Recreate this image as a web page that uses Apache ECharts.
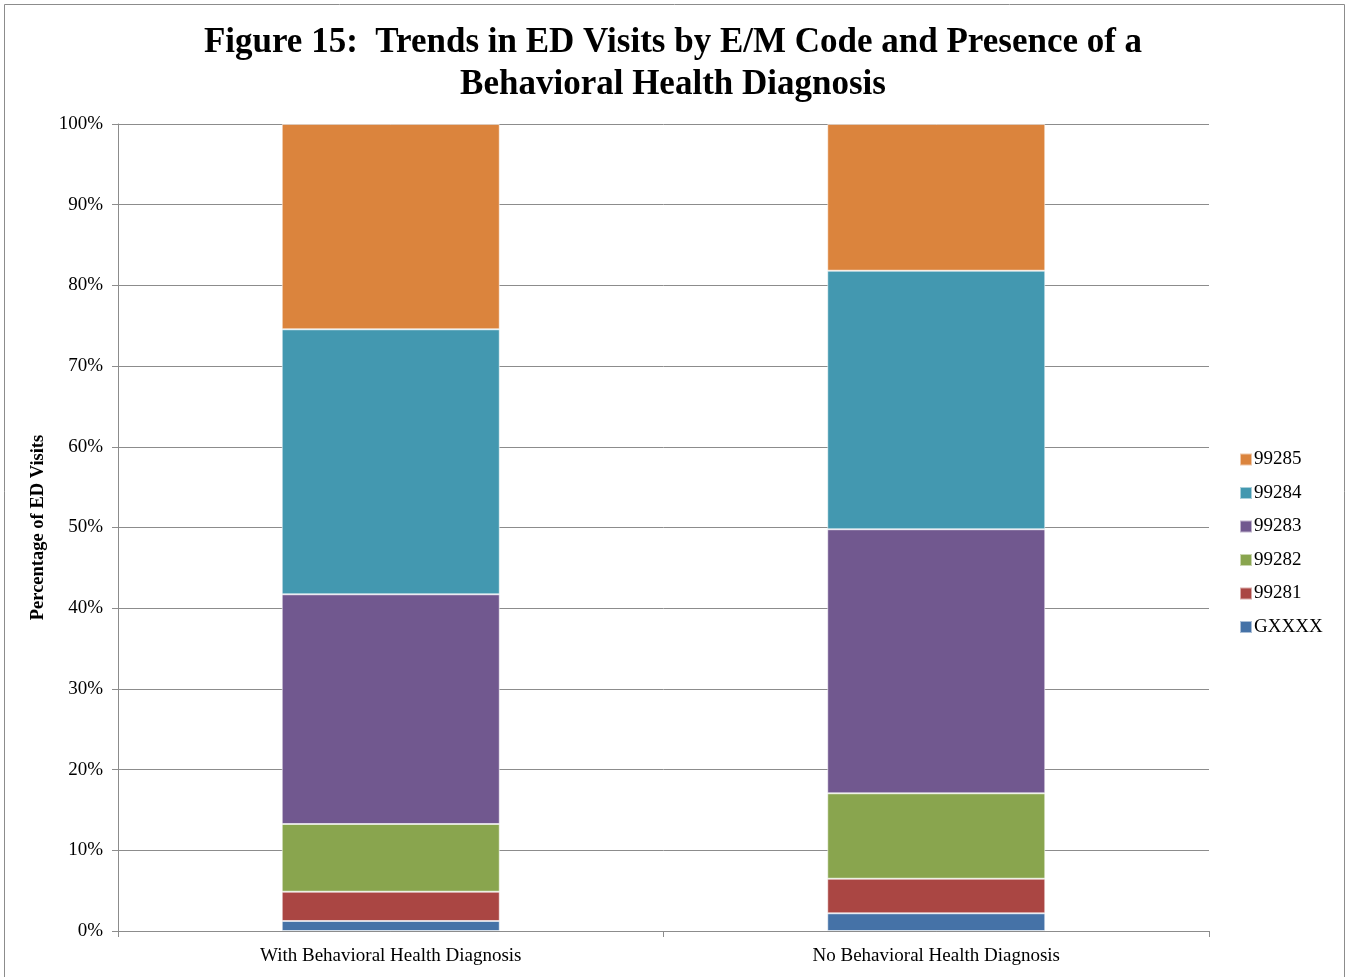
<!DOCTYPE html>
<html>
<head>
<meta charset="utf-8">
<script src="https://cdn.jsdelivr.net/npm/echarts@6/dist/echarts.min.js"></script>
<style>
  html, body { margin: 0; padding: 0; background: #fff; }
  #chart { width: 1346px; height: 977px; }
</style>
</head>
<body>
<div id="chart"></div>
<script>
// Categories along the x axis
const categories = ['With Behavioral Health Diagnosis', 'No Behavioral Health Diagnosis'];

// Share of ED visits (%) for each E/M code, stacked bottom to top
const gxxxx = [1.24, 2.19];
const e99281 = [3.63, 4.29];
const e99282 = [8.39, 10.58];
const e99283 = [28.46, 32.72];
const e99284 = [32.84, 32.04];
const e99285 = [25.44, 18.18];

// Y axis ticks
const yTicks = [0, 10, 20, 30, 40, 50, 60, 70, 80, 90, 100];

const seriesDefs = [
  { name: 'GXXXX', data: gxxxx, color: '#4572A7' },
  { name: '99281', data: e99281, color: '#AA4643' },
  { name: '99282', data: e99282, color: '#89A54E' },
  { name: '99283', data: e99283, color: '#71588F' },
  { name: '99284', data: e99284, color: '#4398B0' },
  { name: '99285', data: e99285, color: '#DB843D' }
];

const font = '"Liberation Serif", "Times New Roman", serif';
const chart = echarts.init(document.getElementById('chart'));

chart.setOption({
  animation: false,
  backgroundColor: '#ffffff',
  textStyle: { fontFamily: font },
  title: {
    text: 'Figure 15:  Trends in ED Visits by E/M Code and Presence of a\nBehavioral Health Diagnosis',
    left: 'center',
    top: 17,
    textStyle: {
      fontFamily: font,
      fontWeight: 'bold',
      fontSize: 35,
      lineHeight: 42,
      color: '#000'
    }
  },
  graphic: [{
    type: 'rect',
    shape: { x: 4.5, y: 4.5, width: 1340, height: 975 },
    style: { fill: 'none', stroke: '#8c8c8c', lineWidth: 1 },
    silent: true
  }],
  legend: {
    orient: 'vertical',
    left: 1234,
    top: 445,
    itemWidth: 12,
    itemHeight: 12,
    itemGap: 14.5,
    icon: 'rect',
    data: seriesDefs.map(s => s.name).reverse(),
    textStyle: { fontFamily: font, fontSize: 19, color: '#000', padding: [0, 0, 0, -3] }
  },
  grid: { left: 118, right: 137, top: 124, bottom: 46 },
  xAxis: {
    type: 'category',
    data: categories,
    axisLine: { lineStyle: { color: '#8c8c8c', width: 1 } },
    axisTick: { show: true, length: 6, lineStyle: { color: '#8c8c8c' } },
    axisLabel: { fontFamily: font, fontSize: 19, color: '#000', margin: 16 }
  },
  yAxis: {
    type: 'value',
    min: yTicks[0],
    max: yTicks[yTicks.length - 1],
    interval: 10,
    name: 'Percentage of ED Visits',
    nameLocation: 'middle',
    nameGap: 70,
    nameTextStyle: { fontFamily: font, fontWeight: 'bold', fontSize: 18.5, color: '#000' },
    axisLine: { show: true, lineStyle: { color: '#8c8c8c', width: 1 } },
    axisTick: { show: true, length: 6, lineStyle: { color: '#8c8c8c' } },
    axisLabel: { fontFamily: font, fontSize: 19, color: '#000', margin: 15, formatter: v => v + '%' },
    splitLine: { lineStyle: { color: '#8c8c8c', width: 1 } }
  },
  series: seriesDefs.map(s => ({
    name: s.name,
    type: 'bar',
    stack: 'total',
    data: s.data,
    barWidth: 218,
    itemStyle: { color: s.color, borderColor: 'rgba(255,255,255,0.55)', borderWidth: 1 }
  }))
});
</script>
</body>
</html>
